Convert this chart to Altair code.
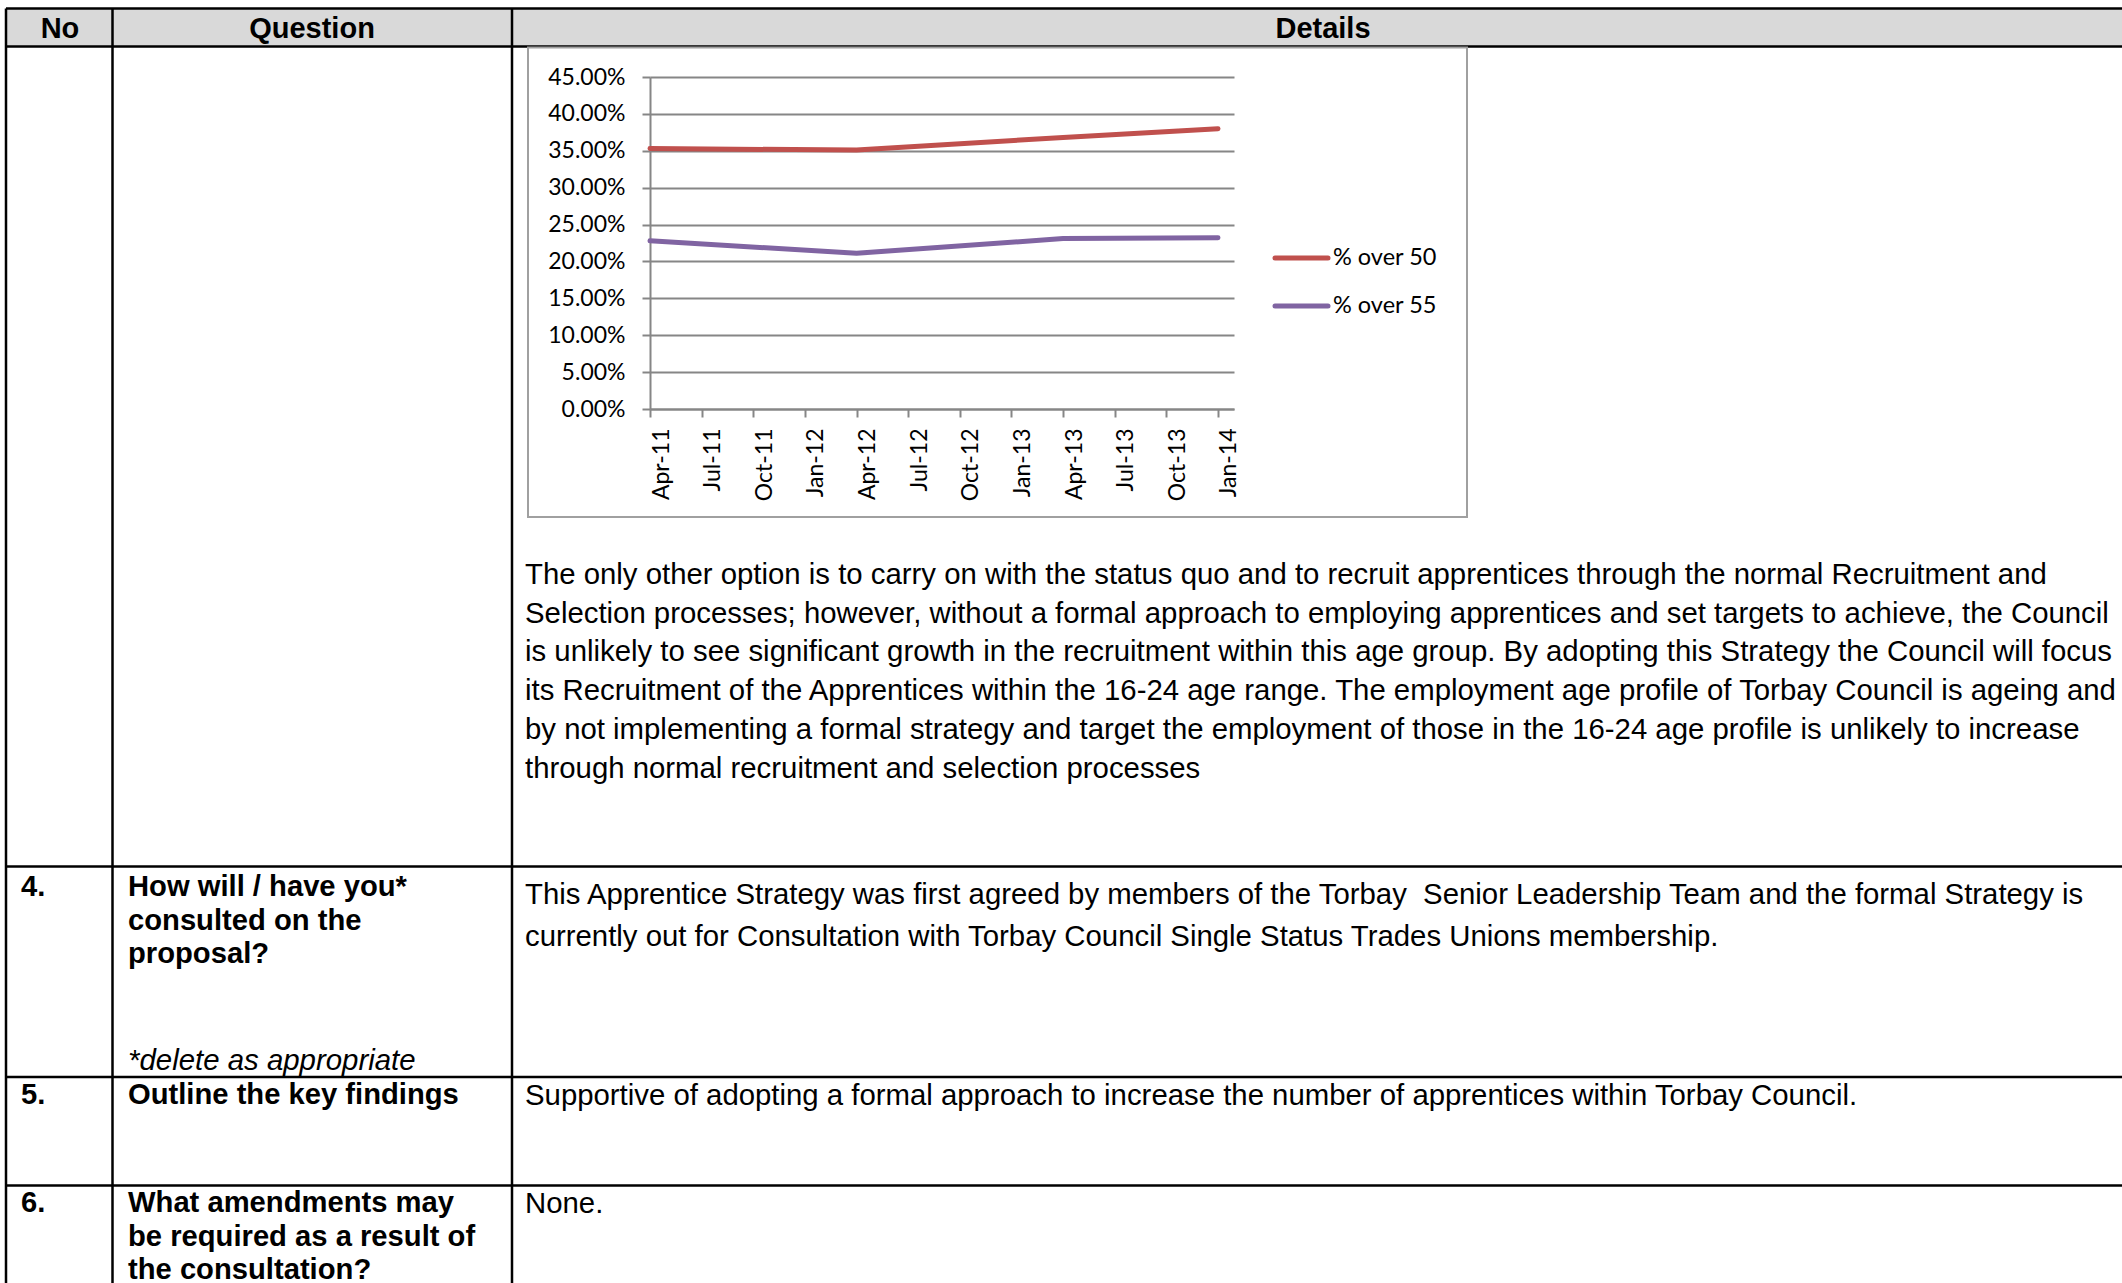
import altair as alt
import pandas as pd

# ---------------- data ----------------
quarter_labels = ["Apr-11", "Jul-11", "Oct-11", "Jan-12", "Apr-12", "Jul-12",
                  "Oct-12", "Jan-13", "Apr-13", "Jul-13", "Oct-13", "Jan-14"]
obs_dates = ["Apr-11", "Apr-12", "Apr-13", "Jan-14"]
series_names = ["% over 50", "% over 55"]
over_50 = [0.353, 0.351, 0.368, 0.380]
over_55 = [0.228, 0.211, 0.231, 0.232]
y_ticks = [0.0, 0.05, 0.10, 0.15, 0.20, 0.25, 0.30, 0.35, 0.40, 0.45]
series_colors = ["#C0504D", "#8064A2"]

header_labels = ["No", "Question", "Details"]
row_numbers = ["4.", "5.", "6."]
questions = [
    ["How will / have you*", "consulted on the", "proposal?"],
    ["Outline the key findings"],
    ["What amendments may", "be required as a result of", "the consultation?"],
]
question_note = "*delete as appropriate"
paragraph = [
    "The only other option is to carry on with the status quo and to recruit apprentices through the normal Recruitment and",
    "Selection processes; however, without a formal approach to employing apprentices and set targets to achieve, the Council",
    "is unlikely to see significant growth in the recruitment within this age group. By adopting this Strategy the Council will focus",
    "its Recruitment of the Apprentices within the 16-24 age range. The employment age profile of Torbay Council is ageing and",
    "by not implementing a formal strategy and target the employment of those in the 16-24 age profile is unlikely to increase",
    "through normal recruitment and selection processes",
]
details = [
    ["This Apprentice Strategy was first agreed by members of the Torbay\u00a0 Senior Leadership Team and the formal Strategy is",
     "currently out for Consultation with Torbay Council Single Status Trades Unions membership."],
    ["Supportive of adopting a formal approach to increase the number of apprentices within Torbay Council."],
    ["None."],
]

rows = []
for name, vals in zip(series_names, [over_50, over_55]):
    for d, v in zip(obs_dates, vals):
        rows.append({"quarter": d, "series": name, "value": v})
df = pd.DataFrame(rows)

# ---------------- layout ----------------
W, H = 2122, 1283
OX, OY = 650, 77          # plot-area origin on the page
PW, PH = 584, 332         # plot-area size
DOC_FONT = "Liberation Sans"
CH_FONT = "Lato"
one = alt.Data(values=[{"k": 0}])


def px(x):
    return alt.value(x - OX)


def py(y):
    return alt.value(y - OY)


def text(lines, x, y, size, weight="normal", style="normal", align="left",
         lh=None, font=DOC_FONT, color="black"):
    return alt.Chart(one).mark_text(
        align=align, baseline="alphabetic", font=font, fontSize=size,
        fontWeight=weight, fontStyle=style, color=color,
        lineHeight=lh if lh else size * 1.2,
    ).encode(x=px(x), y=py(y), text=alt.value(lines))


def hline(y, x1, x2, width=2.5, color="black"):
    return alt.Chart(one).mark_rule(color=color, strokeWidth=width).encode(
        x=px(x1), x2=px(x2), y=py(y))


def vline(x, y1, y2, width=2.5, color="black"):
    return alt.Chart(one).mark_rule(color=color, strokeWidth=width).encode(
        x=px(x), y=py(y1), y2=py(y2))


layers = []
# header band
layers.append(alt.Chart(one).mark_rect(color="#d9d9d9").encode(
    x=px(6), x2=px(W), y=py(8.5), y2=py(46.5)))
# table grid
for yy in [8.5, 46.5, 866.5, 1077, 1185.5]:
    layers.append(hline(yy, 6, W))
for xx in [6, 112.5, 512]:
    layers.append(vline(xx, 8.5, H))

# header texts
for lab, cx in zip(header_labels, [60, 312, 1323]):
    layers.append(text(lab, cx, 38, 29, weight="bold", align="center"))

# rows
num_y = [896, 1104, 1212]
for num, q, det, yy, dy in zip(row_numbers, questions, details, num_y, [904, 1105, 1213]):
    layers.append(text(num, 21, yy, 29.2, weight="bold"))
    layers.append(text(q, 128, yy, 29.2, weight="bold", lh=33.7))
    layers.append(text(det, 525, dy, 29.35, lh=42))
layers.append(text(question_note, 128, 1070, 29.4, style="italic"))
layers.append(text(paragraph, 525, 584, 29.35, lh=38.7))

# chart frame
layers.append(alt.Chart(one).mark_rect(fillOpacity=0, stroke="#a0a0a0", strokeWidth=2).encode(
    x=px(528), x2=px(1467), y=py(47.5), y2=py(517)))

# line chart
color_scale = alt.Scale(domain=series_names, range=series_colors)
lines = alt.Chart(df).mark_line(strokeWidth=5, strokeCap="round", strokeJoin="round").encode(
    x=alt.X("quarter:O",
            scale=alt.Scale(type="point", domain=quarter_labels, range=[0, PW],
                            padding=0.155, align=0),
            sort=quarter_labels,
            axis=alt.Axis(title=None, labelAngle=-90, labelAlign="right", labelBaseline="top",
                          labelFont=CH_FONT, labelFontSize=23, labelColor="black",
                          labelPadding=11, tickSize=8, tickColor="#868686", tickWidth=2,
                          domainColor="#868686", domainWidth=2, grid=False)),
    y=alt.Y("value:Q",
            scale=alt.Scale(domain=[0, 0.45], nice=False, zero=True),
            axis=alt.Axis(title=None, values=y_ticks, format=".2%",
                          labelFont=CH_FONT, labelFontSize=23, labelColor="black",
                          labelPadding=17, tickSize=8, tickColor="#868686", tickWidth=2,
                          domainColor="#868686", domainWidth=2,
                          grid=True, gridColor="#868686", gridWidth=2)),
    color=alt.Color("series:N", scale=color_scale, legend=None),
)
layers.append(lines)

# legend (manual, through the colour scale)
for name, ly in zip(series_names, [258, 306]):
    ld = alt.Data(values=[{"series": name}])
    layers.append(alt.Chart(ld).mark_rule(strokeWidth=5, strokeCap="round").encode(
        x=px(1275), x2=px(1328), y=py(ly),
        color=alt.Color("series:N", scale=color_scale, legend=None)))
    layers.append(alt.Chart(ld).mark_text(align="left", baseline="middle", font=CH_FONT,
                                          fontSize=23.5, color="black").encode(
        x=px(1333), y=py(ly), text="series:N"))

chart = alt.layer(*layers).properties(
    width=PW, height=PH,
    padding={"left": OX, "top": OY, "right": W - OX - PW, "bottom": H - OY - PH},
    autosize=alt.AutoSizeParams(type="none"),
    background="white",
).configure_view(stroke="transparent")

chart.save("out.html", embed_options={"renderer": "svg", "actions": False})
